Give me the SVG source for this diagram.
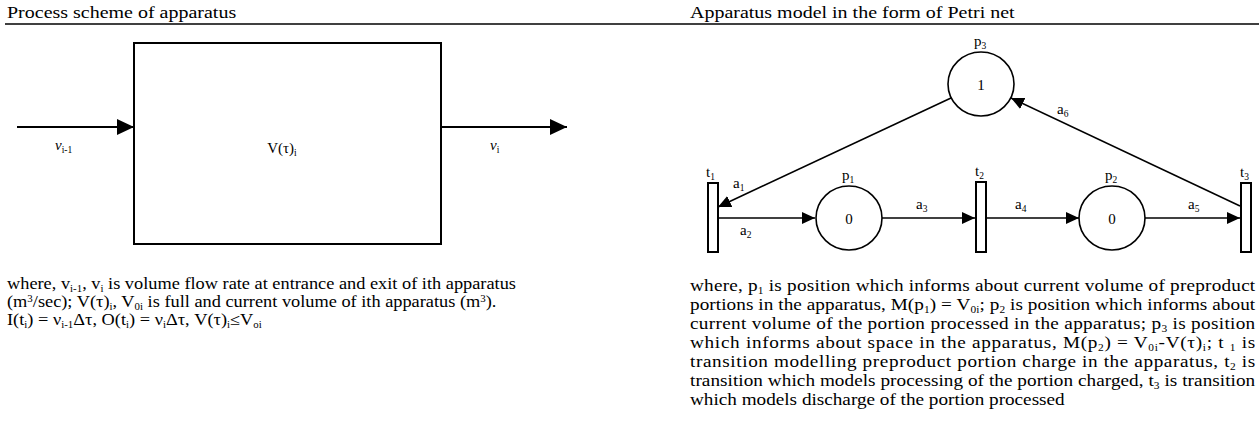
<svg xmlns="http://www.w3.org/2000/svg" width="1259" height="434" viewBox="0 0 1259 434">
<style>
text{font-family:"Liberation Serif","Times New Roman",serif;fill:#000}
.t{font-size:16px}
.h{font-size:17px}
.l{font-size:15px}
.c{text-anchor:middle}
.sub{font-size:9.5px}
.ln{stroke:#000;fill:none}
.box{fill:#fff;stroke:#000;stroke-width:2}
.tr{fill:#fff;stroke:#000;stroke-width:2}
.pl{fill:#fff;stroke:#000;stroke-width:1.6}
</style>
<defs>
<marker id="big" markerUnits="userSpaceOnUse" markerWidth="18" markerHeight="16" refX="17" refY="8" orient="auto"><path d="M0,0 L17,8 L0,16 z" fill="#000"/></marker>
<marker id="sm" markerUnits="userSpaceOnUse" markerWidth="13" markerHeight="12" refX="13" refY="6" orient="auto"><path d="M0,0 L13,6 L0,12 z" fill="#000"/></marker>
</defs>
<line x1="5" y1="24" x2="1259" y2="24" stroke="#000" stroke-width="1.5"/>
<g transform="translate(7,0) scale(1.176,1)"><text class="h" x="0" y="18">Process scheme of apparatus</text></g>
<g transform="translate(690,0) scale(1.176,1)"><text class="h" x="0" y="18">Apparatus model in the form of Petri net</text></g>

<g id="apparatus">
<rect class="box" x="134" y="43" width="307" height="201"/>
<text class="l c" x="282" y="153">V(τ)<tspan class="sub" dy="3">i</tspan></text>
</g>
<g id="connectors">
<line class="ln" x1="17" y1="127" x2="134" y2="127" stroke-width="2" marker-end="url(#big)"/>
<line class="ln" x1="441" y1="127" x2="567" y2="127" stroke-width="2" marker-end="url(#big)"/>
<line class="ln" x1="951" y1="98" x2="718" y2="207" stroke-width="1.6" marker-end="url(#sm)"/>
<line class="ln" x1="719" y1="218" x2="815" y2="218" stroke-width="1.6" marker-end="url(#sm)"/>
<line class="ln" x1="882" y1="218" x2="975" y2="218" stroke-width="1.6" marker-end="url(#sm)"/>
<line class="ln" x1="986" y1="218" x2="1079" y2="218" stroke-width="1.6" marker-end="url(#sm)"/>
<line class="ln" x1="1145" y1="218" x2="1240" y2="218" stroke-width="1.6" marker-end="url(#sm)"/>
<line class="ln" x1="1240" y1="206" x2="1011" y2="98" stroke-width="1.6" marker-end="url(#sm)"/>
<text class="l" x="55" y="150"><tspan font-style="italic">ν</tspan><tspan class="sub" dy="3">i-1</tspan></text>
<text class="l" x="490" y="150"><tspan font-style="italic">ν</tspan><tspan class="sub" dy="3">i</tspan></text>
<text class="l" x="733" y="188">a<tspan class="sub" dy="3">1</tspan></text>
<text class="l" x="740" y="235">a<tspan class="sub" dy="3">2</tspan></text>
<text class="l" x="916" y="209">a<tspan class="sub" dy="3">3</tspan></text>
<text class="l" x="1015" y="209">a<tspan class="sub" dy="3">4</tspan></text>
<text class="l" x="1188" y="209">a<tspan class="sub" dy="3">5</tspan></text>
<text class="l" x="1057" y="114">a<tspan class="sub" dy="3">6</tspan></text>
</g>

<g id="p3">
<ellipse class="pl" cx="981" cy="84" rx="33" ry="32"/>
<text class="l c" x="981" y="90">1</text>
<text class="l" x="974" y="46">p<tspan class="sub" dy="3">3</tspan></text>
</g>
<g id="p1">
<ellipse class="pl" cx="849" cy="218" rx="33" ry="32"/>
<text class="l c" x="849" y="224">0</text>
<text class="l" x="842" y="180">p<tspan class="sub" dy="3">1</tspan></text>
</g>
<g id="p2">
<ellipse class="pl" cx="1112" cy="218" rx="33" ry="32"/>
<text class="l c" x="1112" y="224">0</text>
<text class="l" x="1105" y="180">p<tspan class="sub" dy="3">2</tspan></text>
</g>
<g id="t1">
<rect class="tr" x="708" y="183" width="10" height="69"/>
<text class="l" x="706" y="177">t<tspan class="sub" dy="3">1</tspan></text>
</g>
<g id="t2">
<rect class="tr" x="976" y="182" width="10" height="70"/>
<text class="l" x="975" y="176">t<tspan class="sub" dy="3">2</tspan></text>
</g>
<g id="t3">
<rect class="tr" x="1241" y="183" width="10" height="69"/>
<text class="l" x="1240" y="177">t<tspan class="sub" dy="3">3</tspan></text>
</g>

<g id="left-text" class="t" transform="translate(7,0) scale(1.146,1)">
<text x="0" y="289">where, v<tspan class="sub" dy="3">i-1</tspan><tspan dy="-3">, v</tspan><tspan class="sub" dy="3">i</tspan><tspan dy="-3"> is volume flow rate at entrance and  exit of ith apparatus</tspan></text>
<text x="0" y="307">(m<tspan class="sub" dy="-5">3</tspan><tspan dy="5">/sec); V(τ)</tspan><tspan class="sub" dy="3">i</tspan><tspan dy="-3">, V</tspan><tspan class="sub" dy="3">0i</tspan><tspan dy="-3"> is full and current volume of ith apparatus (m</tspan><tspan class="sub" dy="-5">3</tspan><tspan dy="5">).</tspan></text>
<text x="0" y="325">I(t<tspan class="sub" dy="3">i</tspan><tspan dy="-3">) = ν</tspan><tspan class="sub" dy="3">i-1</tspan><tspan dy="-3">Δτ, O(t</tspan><tspan class="sub" dy="3">i</tspan><tspan dy="-3">) = ν</tspan><tspan class="sub" dy="3">i</tspan><tspan dy="-3">Δτ, V(τ)</tspan><tspan class="sub" dy="3">i</tspan><tspan dy="-3">≤V</tspan><tspan class="sub" dy="3">oi</tspan></text>
</g>

<g id="right-text" class="t" transform="translate(690,0) scale(1.2,1)">
<text x="0" y="291" textLength="471">where, p<tspan class="sub" dy="3">1</tspan><tspan dy="-3"> is position which informs about current volume of preproduct</tspan></text>
<text x="0" y="310" textLength="471">portions in the apparatus, M(p<tspan class="sub" dy="3">1</tspan><tspan dy="-3">) = V</tspan><tspan class="sub" dy="3">0i</tspan><tspan dy="-3">; p</tspan><tspan class="sub" dy="3">2</tspan><tspan dy="-3"> is position which informs about</tspan></text>
<text x="0" y="329" textLength="471">current volume of the portion processed in the apparatus; p<tspan class="sub" dy="3">3</tspan><tspan dy="-3"> is position</tspan></text>
<text x="0" y="348" textLength="471">which informs about space in the apparatus, M(p<tspan class="sub" dy="3">2</tspan><tspan dy="-3">) = V</tspan><tspan class="sub" dy="3">0i</tspan><tspan dy="-3">-V(τ)</tspan><tspan class="sub" dy="3">i</tspan><tspan dy="-3">; t </tspan><tspan class="sub" dy="3">1</tspan><tspan dy="-3"> is</tspan></text>
<text x="0" y="367" textLength="471">transition modelling preproduct portion charge in the apparatus, t<tspan class="sub" dy="3">2</tspan><tspan dy="-3"> is</tspan></text>
<text x="0" y="386" textLength="471">transition which models processing of the portion charged, t<tspan class="sub" dy="3">3</tspan><tspan dy="-3"> is transition</tspan></text>
<text x="0" y="405">which models discharge of the portion processed</text>
</g>
</svg>
